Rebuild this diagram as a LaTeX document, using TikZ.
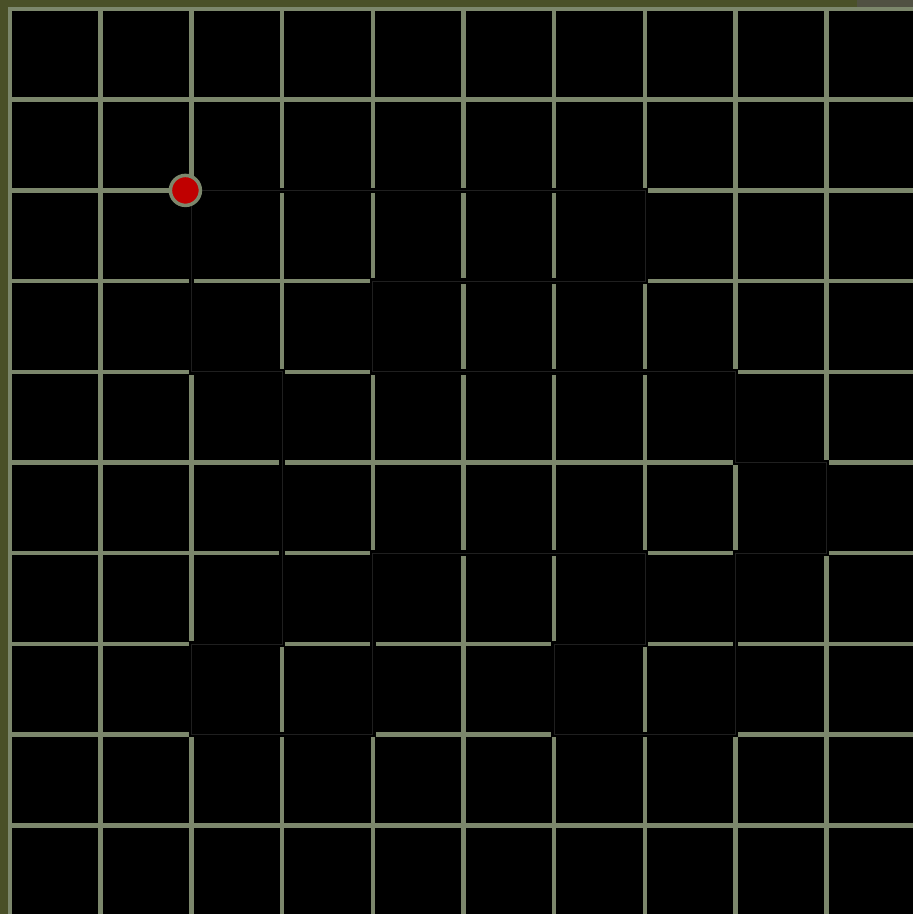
\documentclass[tikz,border=0pt]{standalone}
\usepackage{tikz}
\usetikzlibrary{calc}
\usepackage{xcolor}
\definecolor{gridgreen}{RGB}{124,135,108}
\definecolor{frameolive}{RGB}{74,80,40}
\definecolor{cornergray}{RGB}{80,80,66}
\definecolor{dotred}{RGB}{192,0,0}

\begin{document}
\begin{tikzpicture}[x=1pt,y=-1pt,
  gridline/.style={draw=gridgreen,line width=4.5pt},
  trail/.style={draw=black!88,line width=0.8pt,line join=miter,
    preaction={draw=black,line width=5.5pt}},
  startdot/.style={circle,draw=gridgreen,line width=3.5pt,fill=dotred,
    inner sep=0pt,minimum size=30pt}]

\useasboundingbox (0,0) rectangle (913,914);
\clip (0,0) rectangle (913,914);
\fill[black] (0,0) rectangle (913,914);

\begin{scope}[shift={(10,9)},x=90.7pt,y=-90.7pt]
  \foreach \k in {0,...,9}{%
    \draw[gridline] (\k,-0.05) -- (\k,10.2);
    \draw[gridline] (-0.05,\k) -- (10.2,\k);
  }

  % traced outline over the grid
  \draw[trail] (2,2) -- (7,2) -- (7,3) -- (4,3) -- (4,4) -- (8,4) -- (8,5)
    -- (9,5) -- (9,6) -- (8,6) -- (8,8) -- (6,8) -- (6,7) -- (7,7) -- (7,6)
    -- (4,6) -- (4,8) -- (2,8) -- (2,7) -- (3,7) -- (3,4) -- (2,4) -- cycle;

  \node[startdot,xshift=-6pt] (start) at (2,2) {};
\end{scope}

% frame
\fill[frameolive] (0,0) rectangle (8,914);
\fill[frameolive] (0,0) rectangle (857,7);
\fill[cornergray] (857,0) rectangle (913,7);

\end{tikzpicture}
\end{document}
